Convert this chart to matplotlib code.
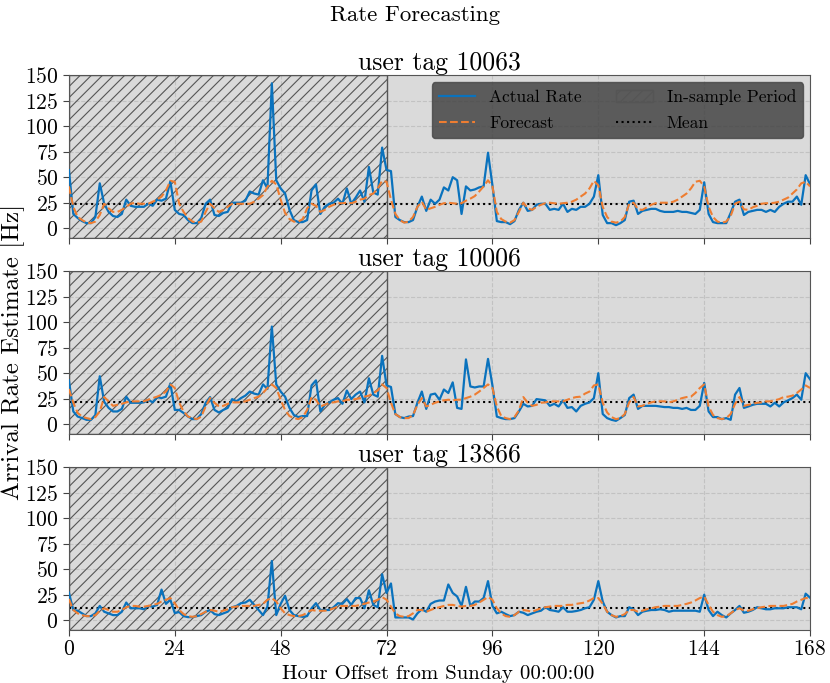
import numpy as np
import matplotlib
matplotlib.use("Agg")
import matplotlib.pyplot as plt

plt.rcParams['font.family'] = ['cmr10', 'DejaVu Serif']
plt.rcParams['mathtext.fontset'] = 'cm'
plt.rcParams['axes.formatter.use_mathtext'] = True
plt.rcParams['hatch.color'] = '#555555'
plt.rcParams['hatch.linewidth'] = 0.8

hours = np.arange(169)
in_sample_end = 72
user_tags = ['10063', '10006', '13866']
mean_levels = [23.5, 21.4, 12.3]

actual_10063 = [
    57, 14, 10, 7, 5, 5, 11, 44, 24, 16, 12, 11, 14, 28, 22, 21, 21, 21, 24, 22, 28, 27, 29, 46,
    18, 14, 13, 8, 5, 5, 10, 24, 28, 13, 12, 15, 16, 25, 25, 25, 27, 36, 34, 33, 47, 39, 142, 47,
    39, 34, 18, 8, 6, 6, 8, 37, 43, 14, 21, 24, 25, 29, 24, 39, 24, 30, 37, 26, 60, 35, 33, 79,
    57, 56, 11, 8, 6, 6, 8, 21, 31, 17, 28, 24, 28, 40, 37, 50, 47, 14, 41, 37, 38, 40, 41, 74,
    42, 7, 6, 6, 4, 7, 18, 25, 17, 18, 23, 24, 24, 18, 19, 18, 24, 16, 19, 18, 21, 21, 24, 31,
    52, 13, 5, 5, 3, 5, 8, 26, 27, 14, 17, 18, 19, 19, 17, 16, 16, 16, 17, 16, 16, 15, 14, 18,
    45, 14, 6, 5, 5, 5, 15, 26, 28, 13, 16, 17, 18, 18, 16, 18, 16, 21, 24, 26, 26, 31, 23, 52,
    43,
]
forecast_10063 = [
    41, 21, 11, 8, 5.5, 5, 6.5, 13, 24, 19.5, 16, 16, 18, 21, 24, 25, 24, 24, 24, 26, 28, 31, 37, 46.5,
    45.5, 24, 16, 10, 6.5, 5.5, 6.5, 16, 24, 19.5, 16, 18, 21, 24, 24, 24, 24, 24, 26, 29, 32.5, 40.5, 46.5, 43,
    28, 15, 9, 6.5, 6.5, 9, 19.5, 24, 22, 16, 18, 21, 23, 24.5, 24.5, 25, 24.5, 26, 28, 29, 32.5, 34, 39, 46.5,
    45.5, 28, 14, 8, 5.5, 6.5, 11, 21, 26, 18, 19.5, 21, 23, 24.5, 25, 24.5, 24, 24.5, 27, 29, 31.5, 36, 41, 47,
    41, 16, 9, 6.5, 5.5, 8, 16, 25, 19.5, 18, 21, 23, 24.5, 25, 24.5, 24, 24.5, 25, 26, 28, 31, 34, 39, 46.5,
    42, 21, 11, 6.5, 5.5, 6.5, 11, 24, 25, 18.5, 18, 20.5, 23, 24.5, 25, 25, 25, 26, 28, 31, 34, 39, 45.5, 46.5,
    41, 21, 11, 6.5, 5.5, 6.5, 12, 24, 26, 18.5, 18, 20.5, 22, 24, 24.5, 24.5, 25, 26, 28, 30, 34, 38, 44, 45.5,
    41,
]
actual_10006 = [
    43, 12.5, 7.5, 6, 4.3, 4.3, 9, 47, 22, 16, 12.5, 12.5, 15, 27, 21, 21, 21, 21.4, 24, 21.4, 26.6, 25.6, 27, 40,
    14, 14, 11, 7.5, 5, 5, 10, 21, 26.6, 14, 11.5, 14, 16, 24.6, 22.4, 25.6, 28, 32, 30, 29, 39, 34.5, 95.7, 39,
    32, 27, 16, 9, 7, 8, 8, 38, 43, 12.5, 19, 21.4, 24, 25.6, 20, 33, 24.6, 29, 32, 21.4, 45, 29, 27, 67,
    38, 36.5, 10, 7, 6, 7.5, 8, 21, 32, 15, 29, 30, 24, 34, 30.6, 41, 16, 15, 63.5, 37, 36, 37, 37, 64,
    38, 7.5, 6, 5, 5, 6, 12.5, 20, 17.4, 18, 24.6, 24, 23.4, 18, 20, 17.4, 23.4, 16, 16.8, 12.5, 18, 20, 21.4, 25.6,
    50, 10, 6, 4.3, 3.3, 6, 9, 25.6, 29, 15, 18, 18, 18, 18, 17.4, 16.8, 16.8, 16, 16, 15, 16, 14, 14, 18,
    40.5, 12.5, 7, 7, 5, 6, 4.3, 29, 35.5, 16, 17.4, 19, 20, 20, 20, 17.4, 21, 17.4, 21.4, 23.4, 25.6, 29, 24, 50,
    44,
]
forecast_10006 = [
    34.5, 21, 11, 7.5, 6, 5, 7, 12.5, 26.6, 22.4, 18, 19, 20, 21.4, 22.4, 22.4, 22.4, 22.4, 24, 25.6, 27, 29, 32, 39,
    35.5, 21, 12.5, 7.5, 6, 5, 7.5, 17.4, 25.6, 21, 17.4, 18, 20, 21.4, 21.4, 21.4, 22.4, 24, 25.6, 27, 30.6, 35.5, 39, 35.5,
    24, 14, 8, 6, 5, 7, 14, 26.6, 24, 17.4, 19, 21, 21.4, 22.4, 22.4, 24, 24, 24.6, 25.6, 27, 28, 30.6, 33, 39,
    35.5, 21, 10, 7, 6, 6, 9, 19, 25.6, 17.4, 19, 21, 22.4, 23.4, 24, 23.4, 24, 24, 25.6, 27, 29, 32, 35.5, 39,
    35.5, 17.4, 8, 6, 5, 7, 13.5, 26.6, 21, 18, 19, 21, 21.4, 22.4, 22.4, 22.4, 22.4, 24, 25.6, 26.6, 27, 30, 32, 38,
    39, 21, 11.5, 7, 5, 6, 10, 21.4, 26.6, 17.4, 18, 20, 21.4, 22.4, 22.4, 22.4, 21.4, 22.4, 24, 25.6, 26.6, 27, 30.6, 35.5,
    39, 17.4, 9, 6, 5, 6, 10, 20, 26.6, 18, 19, 20, 21, 21.4, 22.4, 22.4, 23.4, 24.6, 26.6, 27, 28, 30.6, 34, 38,
    35.5,
]
actual_13866 = [
    27, 10, 9.3, 6.7, 4, 4, 6.7, 14, 8.3, 6.7, 5, 5, 8.3, 17.3, 11.7, 11.7, 11.7, 10.7, 14, 13.3, 15, 30, 16, 20,
    7, 8, 4, 3, 3, 4, 5, 8.3, 10, 6, 5, 6.7, 8.3, 12.7, 14, 16.7, 17.3, 20, 15, 10, 5, 13.3, 58, 5,
    16, 24, 10, 5, 4, 3.3, 4, 11.7, 16.7, 10, 10, 10, 12.7, 16.7, 16, 20.7, 15, 21.7, 21.7, 11.7, 29.3, 15, 12.7, 45,
    26.7, 36, 2.7, 2.7, 2.7, 2.7, 0.7, 6.7, 10.7, 8.3, 16, 18.3, 19.3, 19.3, 35, 26.7, 23.3, 14, 32.7, 14, 18.3, 18.3, 21.7, 38.3,
    14, 6.7, 8.3, 6, 4, 5, 8.3, 7.3, 5, 6.7, 8.3, 9.3, 12.7, 10, 9.3, 8.3, 12.7, 8.3, 8.3, 9, 10, 11.7, 12.7, 20,
    38.3, 18.3, 8.3, 5, 2.7, 4, 4, 12.7, 10.7, 5, 8.3, 9.3, 10, 10, 10.7, 10, 8.3, 9.3, 9.3, 9.3, 9.3, 9.3, 9.3, 8.3,
    25, 10, 4, 8.3, 5, 2.7, 6.7, 10, 14, 7.3, 8.3, 10, 12.7, 11.7, 10.7, 10.7, 11.7, 11.7, 11.7, 12.7, 12.7, 12.7, 10.7, 26,
    22,
]
forecast_13866 = [
    20.7, 10, 6.7, 5, 4, 4, 5, 9.3, 11.7, 10, 8.3, 8.3, 10, 12.7, 14, 14, 13.3, 13.3, 14, 15, 16, 18.3, 20, 21.7,
    16.7, 10, 6, 4, 3.3, 4, 6, 8.3, 10, 9.3, 8.3, 9.3, 10.7, 12.7, 13.3, 14, 14, 14, 14, 15, 16, 20, 21.7, 18.3,
    11.7, 6.7, 5, 4, 4, 5, 7.3, 10, 9.3, 9.3, 9.3, 10, 11.7, 13.3, 14, 14, 14, 14, 15, 16, 17.3, 18.3, 20, 22.7,
    20, 13.3, 6.7, 4, 3.3, 4, 6.7, 10, 10, 8.3, 10, 11.7, 12.7, 14, 15, 15, 14, 13.3, 14, 14, 15, 17.3, 20, 22.7,
    20, 11.7, 6.7, 4, 3.3, 5, 8.3, 10, 9.3, 8.3, 10, 11.7, 12.7, 13.3, 14, 14, 14, 15, 15, 16, 16.7, 17.3, 19.3, 21.7,
    21.7, 16, 8.3, 5, 3.3, 4, 6, 10, 10, 8.3, 9.3, 10.7, 11.7, 12.7, 13.3, 14, 14, 14, 14, 15, 16, 17.3, 19.3, 21.7,
    23.3, 15, 8.3, 5, 3.3, 4, 6.7, 10, 11.7, 9.3, 9.3, 10.7, 11.7, 12.7, 13.3, 14, 14, 14, 14, 15, 16, 18.3, 20, 21.7,
    21.7,
]

actual_series = [actual_10063, actual_10006, actual_13866]
forecast_series = [forecast_10063, forecast_10006, forecast_13866]

fig, axes = plt.subplots(3, 1, figsize=(8.3, 6.83), dpi=100, sharex=True, sharey=True)
fig.subplots_adjust(left=0.083, right=0.976, top=0.890, bottom=0.077, hspace=0.2)

for ax, tag, actual, forecast, mean in zip(axes, user_tags, actual_series, forecast_series, mean_levels):
    ax.set_facecolor('#dadada')
    span = ax.axvspan(0, in_sample_end, facecolor='none', edgecolor='#555555',
                      hatch='///', linewidth=1.0, label='In-sample Period', zorder=1)
    line_a, = ax.plot(hours, actual, color='#0a72bd', lw=1.6, label='Actual Rate', zorder=3)
    line_f, = ax.plot(hours, forecast, color='#ee7d31', lw=1.5, ls='--', label='Forecast', zorder=4)
    line_m = ax.axhline(mean, color='black', ls=':', lw=1.5, label='Mean', zorder=2)

    ax.grid(True, ls='--', color='#c2c2c2', lw=0.8)
    ax.set_axisbelow(True)
    ax.set_xlim(0, 168)
    ax.set_ylim(-10, 150)
    ax.set_xticks(range(0, 169, 24))
    ax.set_yticks(range(0, 151, 25))
    ax.tick_params(labelsize=15.5, color='#444444', length=4)
    ax.tick_params(axis='x', pad=2.5)
    for spine in ax.spines.values():
        spine.set_color('#555555')
    ax.set_title(f'user tag {tag}', fontsize=18.5, pad=3)

    if tag == user_tags[0]:
        leg = ax.legend(handles=[line_a, line_f, span, line_m], ncol=2, loc='upper right',
                        fontsize=12.5, facecolor='#3b3b3b', edgecolor='#444444', framealpha=0.8,
                        columnspacing=2.0, handlelength=2.1, labelspacing=0.65, borderaxespad=0.4)

fig.suptitle('Rate Forecasting', fontsize=16.5, y=0.992)
fig.supylabel('Arrival Rate Estimate [Hz]', fontsize=18, x=0.0, y=0.485)
fig.supxlabel('Hour Offset from Sunday 00:00:00', fontsize=15, x=0.528, y=0.0, va='bottom')

plt.savefig('out.png', dpi=100)
plt.close()
